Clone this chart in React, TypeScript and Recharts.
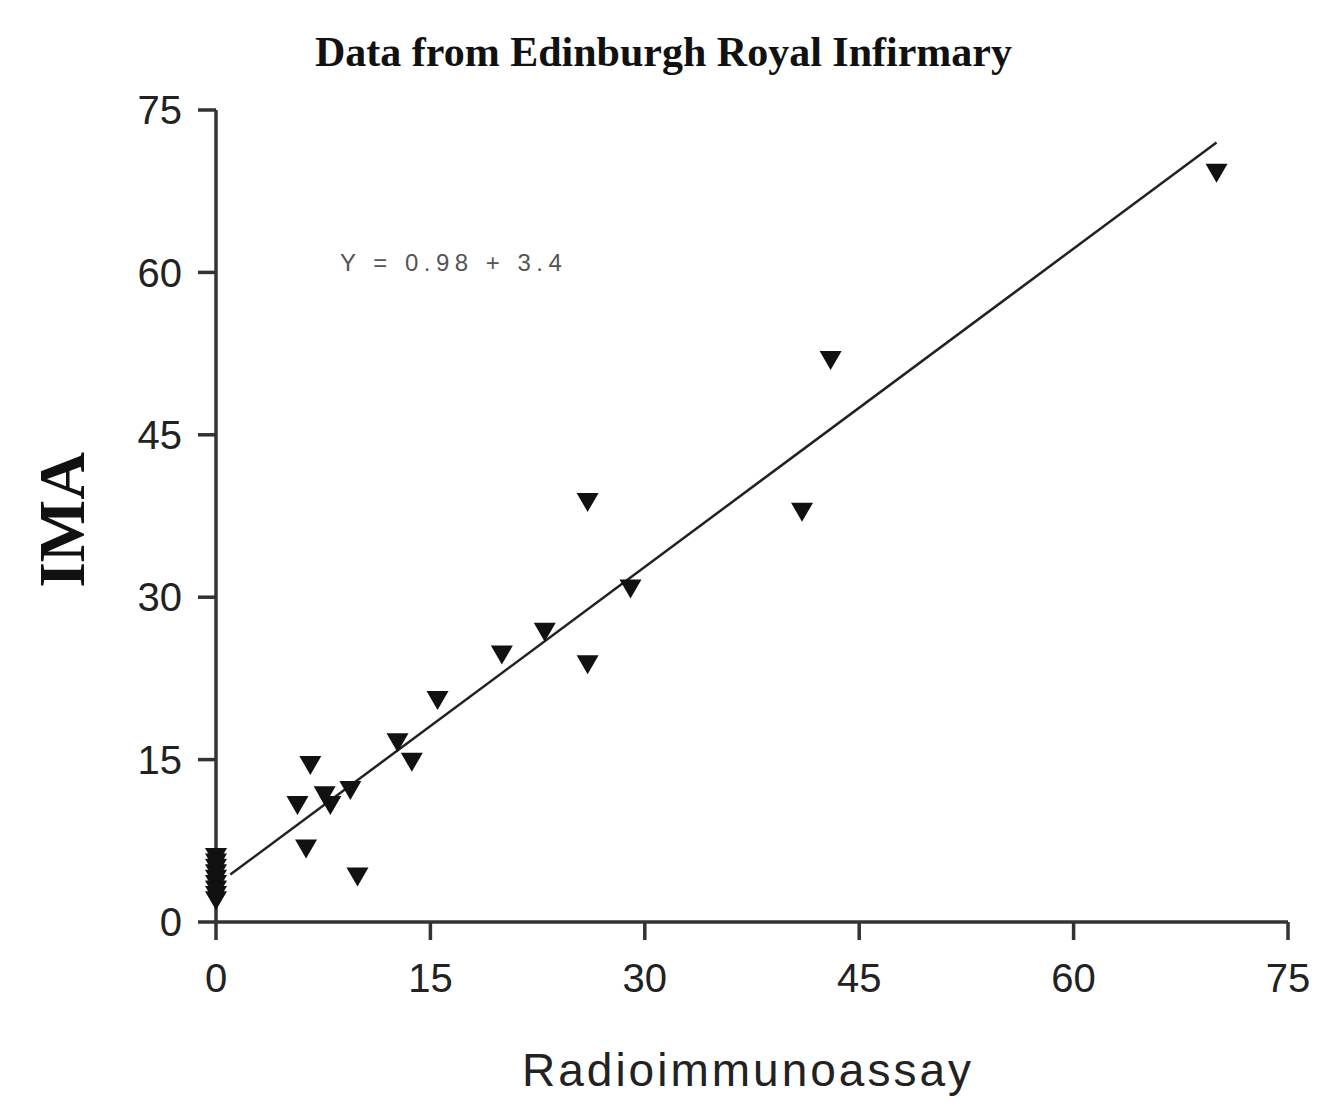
import { ScatterChart, Scatter, XAxis, YAxis, ReferenceLine } from 'recharts';

// values
const radioimmunoassay = [70, 43, 26, 41, 29, 23, 20, 26, 15.5, 12.7, 13.7, 6.6, 5.7, 7.6, 8.0, 9.4, 6.3, 9.9, 0, 0, 0, 0, 0, 0, 0, 0, 0];
const ima = [69.2, 51.9, 38.8, 37.9, 30.8, 26.8, 24.7, 23.8, 20.5, 16.6, 14.8, 14.5, 10.8, 11.7, 10.8, 12.2, 6.8, 4.2, 2, 2.5, 3, 3.5, 4, 4.5, 5, 5.5, 6];
const axisTicks = [0, 15, 30, 45, 60, 75];
const fitSlope = 0.98;
const fitIntercept = 3.4;
const fitRange = [1, 70];

const points = radioimmunoassay.map((x, i) => ({ x, y: ima[i] }));
const fitSegment = fitRange.map(x => ({ x, y: fitSlope * x + fitIntercept }));

const tickStyle = { fontSize: 40, fill: '#222', fontFamily: '"Liberation Sans", Arial, sans-serif' };
const axisStroke = { stroke: '#333', strokeWidth: 3.5 };

function DownTriangle(props: any) {
  const { cx, cy } = props;
  if (cx == null || cy == null) return null;
  return <path d={`M${cx - 11},${cy - 9} L${cx + 11},${cy - 9} L${cx},${cy + 10} Z`} fill="#111" />;
}

export default function App() {
  return (
    <div style={{ position: 'relative', width: 1327, height: 1113, margin: -8, background: '#fff' }}>
      <div
        style={{
          position: 'absolute', left: 0, width: 1327, top: 28, textAlign: 'center',
          fontFamily: '"Liberation Serif", "Times New Roman", serif', fontWeight: 'bold',
          fontSize: 42, color: '#111',
        }}
      >
        Data from Edinburgh Royal Infirmary
      </div>
      <div
        style={{
          position: 'absolute', left: 340, top: 249,
          fontFamily: '"Liberation Sans", Arial, sans-serif', fontSize: 24,
          letterSpacing: 5.5, color: '#555',
        }}
      >
        Y = 0.98 + 3.4
      </div>
      <div
        style={{
          position: 'absolute', left: 62, top: 520, transform: 'translate(-50%, -50%) rotate(-90deg)',
          fontFamily: '"Liberation Serif", "Times New Roman", serif', fontWeight: 'bold',
          fontSize: 66, color: '#111', whiteSpace: 'nowrap',
        }}
      >
        IMA
      </div>
      <div
        style={{
          position: 'absolute', left: 748, top: 1070, transform: 'translate(-50%, -50%)',
          fontFamily: '"Liberation Sans", Arial, sans-serif', fontSize: 46,
          letterSpacing: 3, color: '#222', whiteSpace: 'nowrap',
        }}
      >
        Radioimmunoassay
      </div>
      <div style={{ position: 'absolute', left: 0, top: 0 }}>
        <ScatterChart width={1327} height={1113} margin={{ top: 110, right: 39, bottom: 111, left: 0 }}>
          <XAxis
            type="number"
            dataKey="x"
            domain={[0, 75]}
            ticks={axisTicks}
            height={80}
            tick={tickStyle}
            tickSize={18}
            tickMargin={24}
            axisLine={axisStroke}
            tickLine={axisStroke}
          />
          <YAxis
            type="number"
            dataKey="y"
            domain={[0, 75]}
            ticks={axisTicks}
            width={216}
            tick={tickStyle}
            tickSize={18}
            tickMargin={16}
            axisLine={axisStroke}
            tickLine={axisStroke}
          />
          <ReferenceLine segment={fitSegment} stroke="#222" strokeWidth={2.5} />
          <Scatter data={points} shape={DownTriangle} isAnimationActive={false} />
        </ScatterChart>
      </div>
    </div>
  );
}
